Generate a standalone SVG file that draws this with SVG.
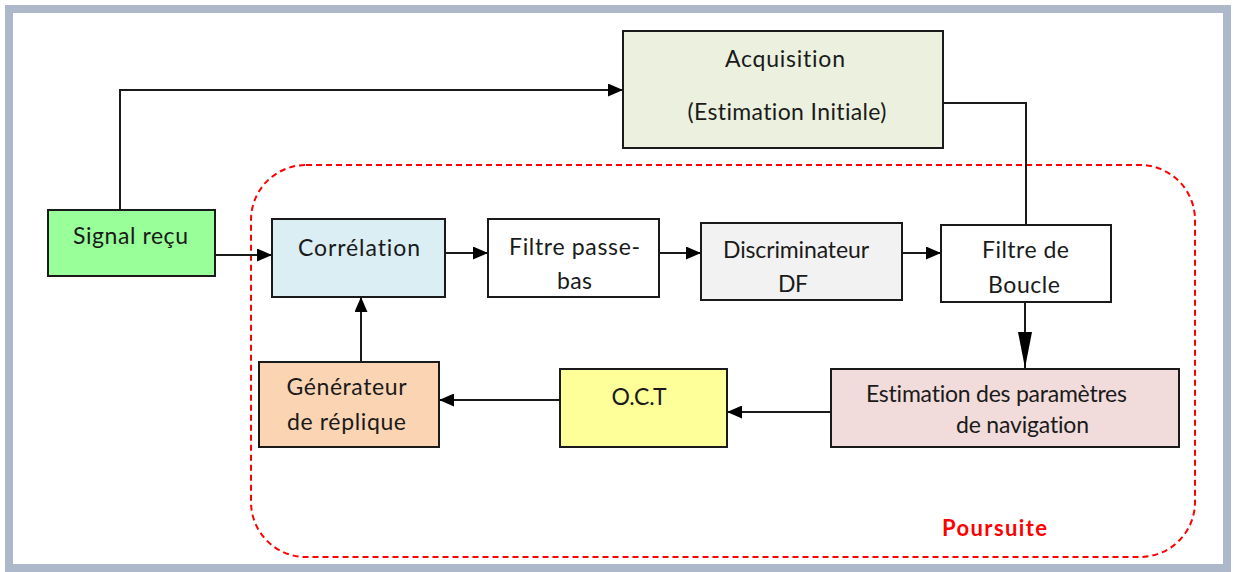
<svg xmlns="http://www.w3.org/2000/svg" width="1234" height="572" viewBox="0 0 1234 572">
<style>
.box{stroke:#1a1a1a;stroke-width:2}
.t{font-family:Lato,"Open Sans","Liberation Sans",sans-serif;font-size:23px;fill:#1a1a1a;font-variant-ligatures:none}
.c{stroke:#1a1a1a;stroke-width:2;fill:none}
</style>
<defs>
<marker id="ah" markerUnits="userSpaceOnUse" markerWidth="15" markerHeight="13" refX="15" refY="6.5" orient="auto">
<path d="M0,0 L15,6.5 L0,13 z" fill="#000"/>
</marker>
<marker id="ahl" markerUnits="userSpaceOnUse" markerWidth="36" markerHeight="14" refX="36" refY="7" orient="auto">
<path d="M0,0 L36,7 L0,14 z" fill="#000"/>
</marker>
</defs>
<rect x="0" y="0" width="1234" height="572" fill="#fff"/>
<rect x="9" y="9" width="1218" height="559" fill="#fff" stroke="#adb9cb" stroke-width="8"/>
<g id="poursuite">
<rect x="251" y="165" width="944" height="392" rx="55" ry="55" fill="none" stroke="#ff0000" stroke-width="2" stroke-dasharray="6,4"/>
<text x="942" y="536" font-family="Lato,'Open Sans','Liberation Sans',sans-serif" font-size="22" font-weight="bold" fill="#ff0000" textLength="105">Poursuite</text>
</g>
<g id="connectors">
<polyline class="c" points="120,210 120,90 623,90" marker-end="url(#ah)"/>
<line class="c" x1="215" y1="255" x2="272" y2="255" marker-end="url(#ah)"/>
<line class="c" x1="445" y1="253" x2="488" y2="253" marker-end="url(#ah)"/>
<line class="c" x1="659" y1="253" x2="701" y2="253" marker-end="url(#ah)"/>
<line class="c" x1="902" y1="253" x2="941" y2="253" marker-end="url(#ah)"/>
<polyline class="c" points="943,103 1026,103 1026,225"/>
<line class="c" x1="1025" y1="302" x2="1025" y2="368" marker-end="url(#ahl)"/>
<line class="c" x1="831" y1="412" x2="727" y2="412" marker-end="url(#ah)"/>
<line class="c" x1="560" y1="400" x2="439" y2="400" marker-end="url(#ah)"/>
<line class="c" x1="361" y1="362" x2="361" y2="297" marker-end="url(#ah)"/>
</g>
<g id="acquisition">
<rect class="box" x="623" y="31" width="320" height="117" fill="#ebf1de"/>
<text class="t" x="785" y="67" text-anchor="middle" textLength="120">Acquisition</text>
<text class="t" x="787" y="120" text-anchor="middle" textLength="199">(Estimation Initiale)</text>
</g>
<g id="signal">
<rect class="box" x="48" y="210" width="167" height="66" fill="#99ff99"/>
<text class="t" x="130.5" y="244" text-anchor="middle" textLength="115">Signal reçu</text>
</g>
<g id="correlation">
<rect class="box" x="272" y="219" width="173" height="78" fill="#daeef3"/>
<text class="t" x="359" y="256" text-anchor="middle" textLength="122">Corrélation</text>
</g>
<g id="filtre-pb">
<rect class="box" x="488" y="219" width="171" height="78" fill="#ffffff"/>
<text class="t" x="574.5" y="255" text-anchor="middle" textLength="131">Filtre passe-</text>
<text class="t" x="574.5" y="289" text-anchor="middle" textLength="35">bas</text>
</g>
<g id="discriminateur">
<rect class="box" x="701" y="223" width="201" height="77" fill="#f2f2f2"/>
<text class="t" x="796" y="258" text-anchor="middle" textLength="146">Discriminateur</text>
<text class="t" x="793" y="292" text-anchor="middle" textLength="30">DF</text>
</g>
<g id="filtre-boucle">
<rect class="box" x="941" y="225" width="170" height="77" fill="#ffffff"/>
<text class="t" x="1025.5" y="258" text-anchor="middle" textLength="87">Filtre de</text>
<text class="t" x="1024" y="293" text-anchor="middle" textLength="72">Boucle</text>
</g>
<g id="estimation">
<rect class="box" x="831" y="369" width="348" height="78" fill="#f2dcdb"/>
<text class="t" x="866" y="402" font-size="20" textLength="261">Estimation des paramètres</text>
<text class="t" x="956" y="433" font-size="20" textLength="133">de navigation</text>
</g>
<g id="oct">
<rect class="box" x="560" y="369" width="167" height="78" fill="#ffff99"/>
<text class="t" x="639" y="405" text-anchor="middle" textLength="55">O.C.T</text>
</g>
<g id="generateur">
<rect class="box" x="259" y="362" width="180" height="85" fill="#fbd4b4"/>
<text class="t" x="346.5" y="395" text-anchor="middle" textLength="120">Générateur</text>
<text class="t" x="346.5" y="430" text-anchor="middle" textLength="119">de réplique</text>
</g>
</svg>
